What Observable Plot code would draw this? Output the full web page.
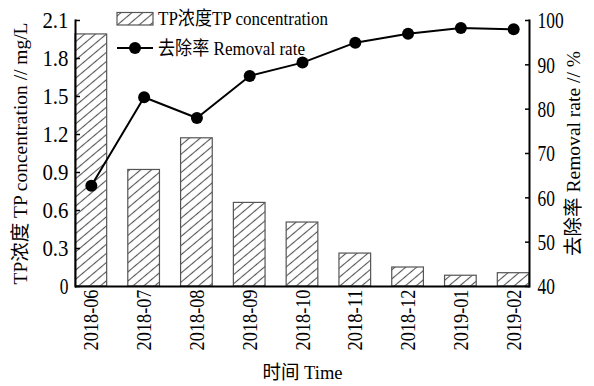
<!DOCTYPE html>
<html>
<head>
<meta charset="utf-8">
<script src="https://cdn.jsdelivr.net/npm/d3@7"></script>
<script src="https://cdn.jsdelivr.net/npm/@observablehq/plot@0.6"></script>
<style>
  body { margin: 0; background: #fff; }
  #chart { position: relative; width: 594px; height: 386px; }
</style>
</head>
<body>
<div id="chart"></div>
<script>
// Monthly TP concentration (mg/L) and removal rate (%)
const months = ["2018-06", "2018-07", "2018-08", "2018-09", "2018-10", "2018-11", "2018-12", "2019-01", "2019-02"];
const tpConc = [1.99, 0.92, 1.17, 0.66, 0.505, 0.26, 0.15, 0.085, 0.105];
const removalRate = [62.7, 82.7, 78.0, 87.5, 90.5, 95.0, 97.0, 98.3, 98.0];
const concTicks = [0, 0.3, 0.6, 0.9, 1.2, 1.5, 1.8, 2.1];
const rateTicks = [40, 50, 60, 70, 80, 90, 100];

const legendLabels = ["TP浓度TP concentration", "去除率 Removal rate"];
const yLabel = "TP浓度 TP concentration // mg/L";
const y2Label = "去除率 Removal rate // %";
const xLabel = "时间 Time";

// The removal rate shares the vertical scale: 40–100 % maps onto 0–2.1 mg/L
const concMax = 2.1, rateMin = 40, rateMax = 100;
const toConc = r => (r - rateMin) / (rateMax - rateMin) * concMax;
const toRate = c => c / concMax * (rateMax - rateMin) + rateMin;

const data = months.map((m, i) => ({month: m, tp: tpConc[i], rate: removalRate[i]}));

const font = "'Liberation Serif', 'Noto Sans CJK SC', serif";

const plot = Plot.plot({
  width: 594,
  height: 386,
  marginLeft: 75,
  marginRight: 65,
  marginTop: 20,
  marginBottom: 100,
  style: {fontFamily: font, fontSize: "24px", color: "#000", background: "#fff", overflow: "visible"},
  x: {domain: months, paddingInner: 0.4, paddingOuter: 0, round: false},
  y: {domain: [0, concMax]},
  marks: [
    Plot.barY(data, {x: "month", y: "tp", fill: "url(#tp-hatch)", stroke: "#555", strokeWidth: 1.2}),
    Plot.line(data, {x: "month", y: d => toConc(d.rate), stroke: "#000", strokeWidth: 2}),
    Plot.dot(data, {x: "month", y: d => toConc(d.rate), r: 6, fill: "#000", stroke: "none"}),
    Plot.axisY(concTicks, {
      anchor: "left", tickSize: -5, tickPadding: 12, strokeWidth: 1.5,
      tickFormat: d => d === 0 ? "0" : d.toFixed(1),
      label: yLabel, labelAnchor: "center", labelArrow: "none", labelOffset: 62
    }),
    Plot.axisY(rateTicks.map(toConc), {
      anchor: "right", tickSize: -5, tickPadding: 13, strokeWidth: 1.5,
      tickFormat: d => String(Math.round(toRate(d))),
      label: y2Label, labelAnchor: "center", labelArrow: "none", labelOffset: 50
    }),
    Plot.axisX({
      tickSize: 0, tickPadding: 3, tickRotate: -90, fontSize: 22,
      label: xLabel, labelAnchor: "center", labelArrow: "none", labelOffset: 92
    }),
    Plot.ruleY([0], {stroke: "#000", strokeWidth: 2}),
    Plot.frame({anchor: "left", stroke: "#000", strokeWidth: 2}),
    Plot.frame({anchor: "right", stroke: "#000", strokeWidth: 2})
  ]
});

document.getElementById("chart").appendChild(plot);
const svg = d3.select(plot);

// Hatch fill for the concentration bars
const defs = svg.insert("defs", ":first-child");
const pat = defs.append("pattern")
  .attr("id", "tp-hatch")
  .attr("patternUnits", "userSpaceOnUse")
  .attr("width", 7).attr("height", 7)
  .attr("patternTransform", "rotate(-40)");
pat.append("rect").attr("width", 7).attr("height", 7).attr("fill", "#fff");
pat.append("line").attr("x1", 0).attr("x2", 7).attr("y1", 3.5).attr("y2", 3.5)
  .attr("stroke", "#555").attr("stroke-width", 1.1);

// Narrow, evenly spaced tick lettering
svg.selectAll("g[aria-label='y-axis tick label'] text, g[aria-label='x-axis tick label'] text")
  .each(function() {
    const n = this.textContent.length;
    this.setAttribute("textLength", n * 8.7);
    this.setAttribute("lengthAdjust", "spacingAndGlyphs");
  });

// Axis titles
const titleLengths = {[yLabel]: 262, [y2Label]: 205, [xLabel]: 80};
svg.selectAll("g[aria-label='y-axis label'] text, g[aria-label='x-axis label'] text")
  .each(function() {
    this.setAttribute("font-size", "19px");
    const len = titleLengths[this.textContent];
    if (len) {
      this.setAttribute("textLength", len);
      this.setAttribute("lengthAdjust", "spacingAndGlyphs");
    }
  });

// Legend in the upper part of the plot area
const legend = svg.append("g")
  .attr("font-family", font).attr("font-size", 19).attr("text-anchor", "start");
legend.append("rect").attr("x", 117).attr("y", 12.5).attr("width", 36).attr("height", 12.5)
  .attr("fill", "url(#tp-hatch)").attr("stroke", "#555").attr("stroke-width", 1.2);
legend.append("text").attr("x", 158).attr("y", 25).attr("fill", "#000").text(legendLabels[0])
  .attr("textLength", 170).attr("lengthAdjust", "spacingAndGlyphs");
legend.append("line").attr("x1", 117).attr("x2", 153).attr("y1", 48).attr("y2", 48)
  .attr("stroke", "#000").attr("stroke-width", 2);
legend.append("circle").attr("cx", 135).attr("cy", 48).attr("r", 6).attr("fill", "#000");
legend.append("text").attr("x", 158).attr("y", 55).attr("fill", "#000").text(legendLabels[1])
  .attr("textLength", 147).attr("lengthAdjust", "spacingAndGlyphs");
</script>
</body>
</html>
